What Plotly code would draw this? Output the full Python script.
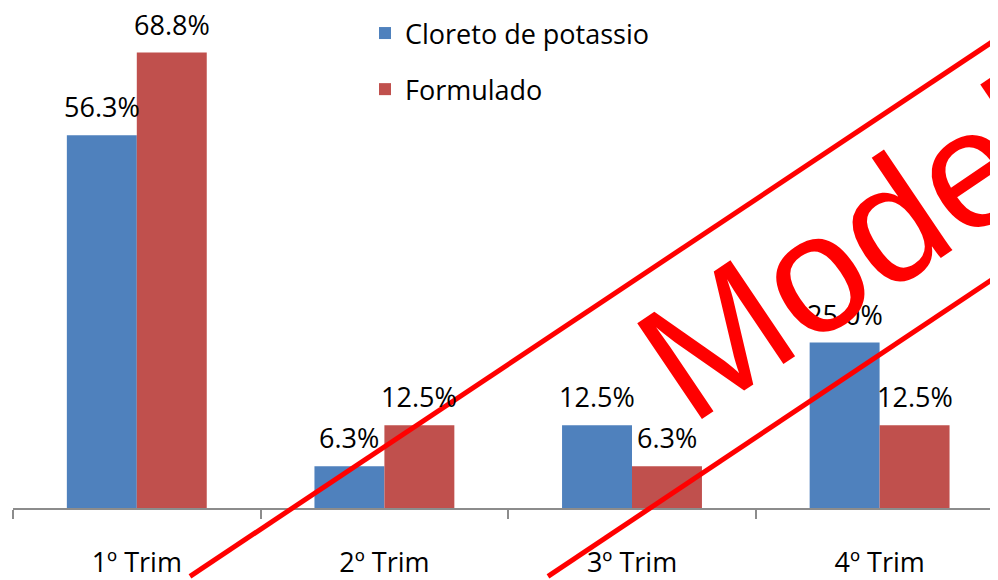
import plotly.graph_objects as go

# chart data
trimestres = ["1º Trim", "2º Trim", "3º Trim", "4º Trim"]
cloreto = [56.3, 6.3, 12.5, 25.0]
formulado = [68.8, 12.5, 6.3, 12.5]
series_names = ["Cloreto de potassio", "Formulado"]
colors = ["#4F81BD", "#C0504D"]
stamp_text = "Modelo"

# the page body keeps its default 8px margin, so the figure starts at (8, 8)
OFF = 8
W, H = 998 - OFF, 580 - OFF
ML = 13 - OFF
PLOT_W = W - ML
PLOT_H = 513 - OFF
MB = H - PLOT_H


def px(x, y):
    """pixel position in the window -> paper coords"""
    return (x - OFF - ML) / PLOT_W, (PLOT_H - (y - OFF)) / PLOT_H


fig = go.Figure()
for name, vals, col in zip(series_names, [cloreto, formulado], colors):
    fig.add_trace(go.Bar(x=trimestres, y=vals, name=name, legendgroup=name,
                         marker=dict(color=col, line=dict(width=0))))

# value labels above the bars
for i, vals in enumerate([cloreto, formulado]):
    shift = -35 if i == 0 else 35
    for cat, v in zip(trimestres, vals):
        fig.add_annotation(x=cat, y=v, text=f"{v:.1f}%", showarrow=False,
                           xshift=shift, yshift=8, yanchor="bottom",
                           font=dict(family="Open Sans", size=27, color="#000"))

# "Modelo" stamp watermark
for (x0, y0), (x1, y1) in [((190, 582), (1000, 37)), ((548, 582), (1000, 277))]:
    a, b = px(x0, y0)
    c, d = px(x1, y1)
    fig.add_shape(type="line", xref="paper", yref="paper", x0=a, y0=b, x1=c, y1=d,
                  line=dict(color="#FF0000", width=5))
sx, sy = px(886, 227)
fig.add_annotation(xref="paper", yref="paper", x=sx, y=sy, text=stamp_text,
                   showarrow=False, textangle=-34, xanchor="center", yanchor="middle",
                   font=dict(family="Liberation Sans", size=168, color="#FF0000"))

fig.update_layout(
    width=W, height=H,
    margin=dict(l=ML, r=0, t=0, b=MB),
    paper_bgcolor="white", plot_bgcolor="white",
    barmode="group", bargap=0.435, bargroupgap=0,
    font=dict(family="Open Sans", size=27, color="#000"),
    legend=dict(x=px(365, 0)[0], y=px(0, 9)[1], xanchor="left", yanchor="top",
                traceorder="grouped", tracegroupgap=18,
                font=dict(size=27), bgcolor="rgba(0,0,0,0)"),
    xaxis=dict(range=[-0.5, -0.5 + PLOT_W / 247.6], showline=True, linecolor="#8C8C8C",
               linewidth=2, ticks="outside", tickson="boundaries", ticklen=9,
               tickcolor="#8C8C8C", tickwidth=2, ticklabelstandoff=30,
               showgrid=False, zeroline=False),
    yaxis=dict(range=[0, PLOT_H / 6.686], visible=False, showgrid=False),
)

fig.write_html("out.html")
